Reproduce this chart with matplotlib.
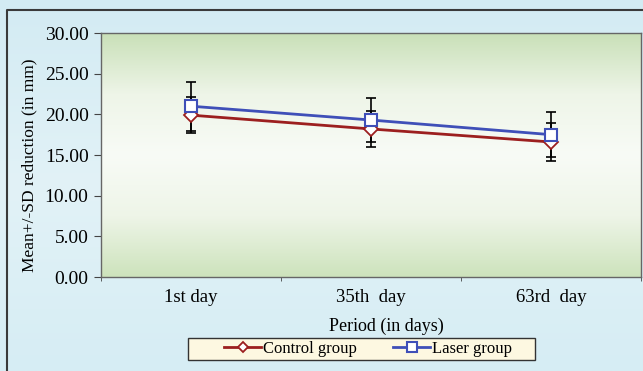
import matplotlib.pyplot as plt
import numpy as np
from matplotlib.colors import LinearSegmentedColormap
from matplotlib.patches import Rectangle

periods = ["1st day", "35th  day", "63rd  day"]
control_mean = [19.9, 18.2, 16.6]
control_sd = [2.2, 2.2, 2.3]
laser_mean = [21.0, 19.3, 17.5]
laser_sd = [3.0, 2.7, 2.8]
y_ticks = [0, 5, 10, 15, 20, 25, 30]

plt.rcParams['font.family'] = ['Liberation Serif', 'DejaVu Serif']

fig = plt.figure(figsize=(6.43, 3.71), dpi=100)

# figure background: light blue gradient with dark frame
bg = fig.add_axes([0, 0, 1, 1], zorder=-10)
bg_cmap = LinearSegmentedColormap.from_list("bg", ["#d3ebf3", "#e2f2f7", "#d6edf4"])
bg.imshow(np.linspace(0, 1, 256).reshape(-1, 1), aspect="auto", cmap=bg_cmap,
          extent=[0, 1, 0, 1], origin="upper")
bg.plot([7 / 643, 7 / 643, 1.0], [0, 1 - 10 / 371, 1 - 10 / 371], color="#3a3a3a", lw=1.5)
# legend box
bg.add_patch(Rectangle((188 / 643, 1 - 360 / 371), (535 - 188) / 643, 22 / 371,
                       facecolor="#fdf8e1", edgecolor="#333333", lw=1))
bg.set_xlim(0, 1)
bg.set_ylim(0, 1)
bg.axis("off")

ax = fig.add_axes([101 / 643, 1 - 277 / 371, 540 / 643, 244 / 371])
x = np.arange(len(periods))

# plot area gradient: green - white - green
pa_cmap = LinearSegmentedColormap.from_list("pa", ["#c9e0b8", "#eef5e8", "#f8fbf6", "#eef5e8", "#cde3bc"])
ax.imshow(np.linspace(0, 1, 256).reshape(-1, 1), aspect="auto", cmap=pa_cmap,
          extent=[-0.5, 2.5, 0, 30], origin="upper", zorder=0)

ax.errorbar(x, control_mean, yerr=control_sd, fmt="none", ecolor="black",
            elinewidth=1.2, capsize=3.5, capthick=1.2, zorder=2)
ax.errorbar(x, laser_mean, yerr=laser_sd, fmt="none", ecolor="black",
            elinewidth=1.2, capsize=3.5, capthick=1.2, zorder=2)
ax.plot(x, control_mean, color="#9c1f1f", lw=2, marker="D", markersize=7,
        markerfacecolor="white", markeredgecolor="#9c1f1f", markeredgewidth=1.3,
        label="Control group", zorder=3)
ax.plot(x, laser_mean, color="#3f4fb8", lw=2, marker="s", markersize=9,
        markerfacecolor="white", markeredgecolor="#3f4fb8", markeredgewidth=1.5,
        label="Laser group", zorder=4)

ax.set_xlim(-0.5, 2.5)
ax.set_ylim(0, 30)
ax.set_yticks(y_ticks)
ax.set_yticklabels([f"{v:.2f}" for v in y_ticks], fontsize=14)
ax.set_xticks(x)
ax.set_xticklabels(periods, fontsize=13.5)
ax.set_xticks([-0.5, 0.5, 1.5, 2.5], minor=True)
ax.tick_params(axis="x", which="major", length=0, pad=9)
ax.tick_params(axis="x", which="minor", length=3, color="#444444")
ax.tick_params(axis="y", length=5, color="#444444", pad=4)
for s in ax.spines.values():
    s.set_color("#666666")
    s.set_linewidth(1)

ax.set_xlabel("Period (in days)", fontsize=13)
ax.xaxis.set_label_coords((386 - 101) / 540, -(326 - 277) / 244)
ax.set_ylabel("Mean+/-SD reduction (in mm)", fontsize=12.5)
ax.yaxis.set_label_coords((29 - 101) / 540, (277 - 165) / 244)
ax.yaxis.label.set_verticalalignment("center")
ax.xaxis.label.set_verticalalignment("center")

leg = fig.legend(loc="center", bbox_to_anchor=(368 / 643, 1 - 349 / 371), ncol=2,
                 fontsize=12, frameon=False, borderpad=0.2, handlelength=2.2,
                 handletextpad=0.1, columnspacing=2.2, markerscale=0.8)

fig.savefig("out.png", dpi=100)
